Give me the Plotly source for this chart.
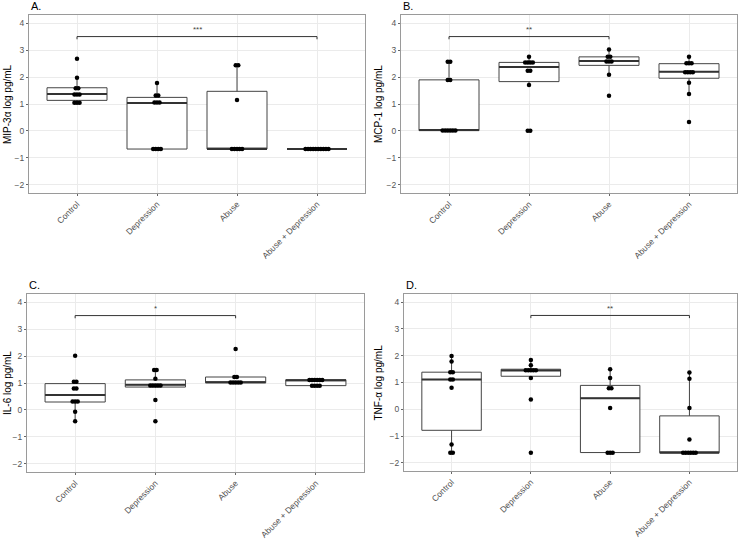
import numpy as np
import plotly.graph_objects as go

categories = ["Control", "Depression", "Abuse", "Abuse + Depression"]
tick_vals_y = [-2, -1, 0, 1, 2, 3, 4]

# Panel A: MIP-3alpha
mip_control = [1.02, 1.05, 1.08, 1.30, 1.35, 1.40, 1.55, 1.62, 1.97, 2.68]
mip_depression = [-0.67, -0.67, -0.67, -0.67, 1.03, 1.05, 1.08, 1.30, 1.33, 1.78]
mip_abuse = [-0.67, -0.67, -0.67, -0.67, -0.67, 1.15, 2.43, 2.45]
mip_abuse_dep = [-0.67] * 10

# Panel B: MCP-1
mcp_control = [0.0, 0.0, 0.01, 0.02, 0.03, 0.04, 1.88, 1.90, 2.56, 2.58]
mcp_depression = [0.0, 0.02, 1.70, 2.22, 2.24, 2.50, 2.52, 2.55, 2.58, 2.75]
mcp_abuse = [1.31, 2.08, 2.55, 2.58, 2.60, 2.74, 2.77, 3.02]
mcp_abuse_dep = [0.33, 1.37, 1.79, 2.12, 2.16, 2.20, 2.24, 2.48, 2.51, 2.54, 2.75]

# Panel C: IL-6
il6_control = [-0.42, -0.07, 0.29, 0.31, 0.33, 0.78, 0.82, 1.03, 1.06, 2.01]
il6_depression = [-0.42, 0.37, 0.84, 0.88, 0.92, 0.95, 0.98, 1.16, 1.47, 1.50]
il6_abuse = [1.00, 1.00, 1.01, 1.02, 1.03, 1.22, 1.23, 2.26]
il6_abuse_dep = [0.88, 0.89, 0.90, 0.91, 1.10, 1.11, 1.12, 1.12, 1.13, 1.13]

# Panel D: TNF-alpha
tnf_control = [-1.62, -1.61, -1.31, 0.80, 1.10, 1.12, 1.37, 1.39, 1.78, 1.99]
tnf_depression = [-1.62, 0.37, 1.17, 1.42, 1.44, 1.46, 1.48, 1.50, 1.64, 1.84]
tnf_abuse = [-1.62, -1.62, -1.61, 0.05, 0.78, 0.80, 1.17, 1.49]
tnf_abuse_dep = [-1.62] * 6 + [-1.13, 0.05, 1.14, 1.37]

panel_labels = ["A.", "B.", "C.", "D."]
y_titles = ["MIP-3\u03b1 log pg/mL", "MCP-1 log pg/mL", "IL-6 log pg/mL", "TNF-\u03b1 log pg/mL"]
sig_pairs = [(0, 3), (0, 2), (0, 2), (1, 3)]
sig_text = ["***", "**", "*", "**"]
bracket_level = 3.5

groups_all = [
    [mip_control, mip_depression, mip_abuse, mip_abuse_dep],
    [mcp_control, mcp_depression, mcp_abuse, mcp_abuse_dep],
    [il6_control, il6_depression, il6_abuse, il6_abuse_dep],
    [tnf_control, tnf_depression, tnf_abuse, tnf_abuse_dep],
]

W, H = 740, 539
# pixel boxes of each plot panel: left, right, top, bottom
panel_px = [(29, 365, 15, 193), (401, 737, 15, 193), (27, 364, 294, 472), (404, 737, 294, 471)]
ytitle_px = [7, 378, 7, 378]

BORDER = "#9a9a9a"
BOXLINE = "#444444"
GRID = "#ebebeb"
FONT = "Liberation Sans, Arial, sans-serif"

BOX_W = 0.75
BINW = 0.15
DOT_SP = 0.032

fig = go.Figure()


def dot_positions(vals, center):
    v = sorted(vals)
    xs, ys = [], []
    i = 0
    while i < len(v):
        start = v[i]
        j = i
        while j < len(v) and v[j] - start <= BINW + 1e-9:
            j += 1
        b = v[i:j]
        yc = (b[0] + b[-1]) / 2
        k = len(b)
        for m in range(k):
            xs.append(center + (m - (k - 1) / 2) * DOT_SP)
            ys.append(yc)
        i = j
    return xs, ys


for p in range(4):
    sfx = "" if p == 0 else str(p + 1)
    xa, ya = "x" + sfx, "y" + sfx
    for j, vals in enumerate(groups_all[p]):
        arr = np.array(vals, dtype=float)
        q1, med, q3 = np.percentile(arr, [25, 50, 75])
        iqr = q3 - q1
        lf = arr[arr >= q1 - 1.5 * iqr].min()
        uf = arr[arr <= q3 + 1.5 * iqr].max()
        fig.add_trace(go.Box(
            x=[j], q1=[q1], median=[med], q3=[q3], lowerfence=[lf], upperfence=[uf],
            width=BOX_W, whiskerwidth=0, fillcolor="white",
            line=dict(color=BOXLINE, width=1), boxpoints=False,
            xaxis=xa, yaxis=ya, showlegend=False, hoverinfo="skip"))
        fig.add_trace(go.Scatter(
            x=[j - BOX_W / 2, j + BOX_W / 2], y=[med, med], mode="lines",
            line=dict(color="#333333", width=2), xaxis=xa, yaxis=ya,
            showlegend=False, hoverinfo="skip"))
        dx, dy = dot_positions(vals, j)
        fig.add_trace(go.Scatter(
            x=dx, y=dy, mode="markers", marker=dict(color="black", size=4.5),
            xaxis=xa, yaxis=ya, showlegend=False, hoverinfo="skip"))
    a, b = sig_pairs[p]
    fig.add_trace(go.Scatter(
        x=[a, a, b, b], y=[bracket_level - 0.1, bracket_level, bracket_level, bracket_level - 0.1],
        mode="lines", line=dict(color="#333333", width=1), xaxis=xa, yaxis=ya,
        showlegend=False, hoverinfo="skip"))
    fig.add_annotation(x=(a + b) / 2, y=bracket_level + 0.27, xref=xa, yref=ya,
                       text=sig_text[p], showarrow=False,
                       font=dict(size=8, color="#444444", family=FONT))

    l, r, t, bt = panel_px[p]
    dom_x = [l / W, r / W]
    dom_y = [1 - bt / H, 1 - t / H]
    fig.update_layout(**{
        "xaxis" + sfx: dict(
            domain=dom_x, anchor=ya, range=[-0.6, 3.6], tickvals=list(range(4)),
            ticktext=categories, tickangle=-45, showgrid=True, gridcolor=GRID,
            gridwidth=1, zeroline=False, showline=True, mirror=True, automargin=False,
            linecolor=BORDER, linewidth=1, ticks="outside", ticklen=2,
            tickcolor="#666666", tickfont=dict(size=8.5, color="#555555", family=FONT)),
        "yaxis" + sfx: dict(
            domain=dom_y, anchor=xa, range=[-2.3, 4.3], tickvals=tick_vals_y,
            showgrid=True, gridcolor=GRID, gridwidth=1, zeroline=False, automargin=False,
            showline=True, mirror=True, linecolor=BORDER, linewidth=1,
            ticks="outside", ticklen=2, tickcolor="#666666",
            tickfont=dict(size=8.5, color="#555555", family=FONT)),
    })
    fig.add_annotation(x=l / W, y=1 - (t - 9) / H, xref="paper", yref="paper",
                       text=panel_labels[p], showarrow=False, xanchor="left",
                       yanchor="middle", font=dict(size=11, color="black", family=FONT))
    fig.add_annotation(x=ytitle_px[p] / W, y=1 - ((t + bt) / 2) / H, xref="paper",
                       yref="paper", text=y_titles[p], showarrow=False, textangle=-90,
                       xanchor="center", yanchor="middle",
                       font=dict(size=10, color="black", family=FONT))

fig.update_layout(width=W, height=H, autosize=False,
                  margin=dict(l=0, r=0, t=0, b=0),
                  paper_bgcolor="white", plot_bgcolor="white",
                  font=dict(family=FONT))

fig.write_html("out.html", config={"displayModeBar": False},
               post_script="document.body.style.margin='0px';document.body.style.padding='0px';")
